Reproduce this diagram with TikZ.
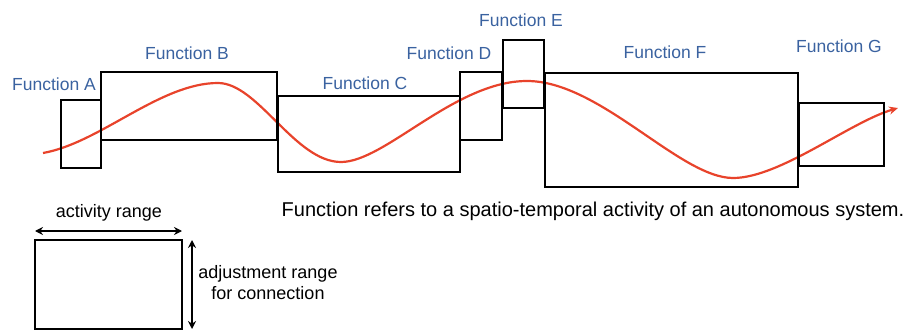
\documentclass[tikz,border=0pt]{standalone}
\usepackage{fontspec}
\setmainfont{Liberation Sans}
\usetikzlibrary{arrows.meta}

\definecolor{fnblue}{HTML}{3A62A0}
\definecolor{flowred}{HTML}{E8432B}

\tikzset{
  fbox/.style={draw, line width=2.6pt, inner sep=0pt},
  flabel/.style={text=fnblue, inner sep=0pt, font=\fontsize{17.5}{21}\selectfont},
  note/.style={inner sep=0pt, font=\fontsize{18}{21}\selectfont},
  flow/.style={flowred, line width=2.2pt, -{Stealth[length=9pt, width=8pt]}},
  spanarrow/.style={line width=2.2pt, {Stealth[length=8pt, width=8pt]}-{Stealth[length=8pt, width=8pt]}}
}

\begin{document}
\begin{tikzpicture}[x=1pt, y=-1pt]
            \useasboundingbox (0,0) rectangle (904,331);

            % Trajectory of the activity
            \coordinate (start) at (43,153);
            \coordinate (stop) at (898,108);
            \draw[flow] (start) .. controls (100,143) and (160,83) .. (218,83)
              .. controls (258,83) and (295,162) .. (341,162)
              .. controls (385,162) and (455,81) .. (527,81)
              .. controls (600,81) and (680,178) .. (733,178)
              .. controls (780,178) and (850,122) .. (stop);

            % Function boxes
            \node[fbox, minimum width=40pt, minimum height=68pt] (fA) at (81,134) {};
            \node[fbox, minimum width=176pt, minimum height=68pt] (fB) at (189,106) {};
            \node[fbox, minimum width=182pt, minimum height=76pt] (fC) at (369,134) {};
            \node[fbox, minimum width=42pt, minimum height=68pt] (fD) at (481,106) {};
            \node[fbox, minimum width=41pt, minimum height=68pt] (fE) at (523.5,74) {};
            \node[fbox, minimum width=253pt, minimum height=114pt] (fF) at (671.5,130) {};
            \node[fbox, minimum width=85pt, minimum height=63pt] (fG) at (841.5,134.5) {};

            % Function names
            \node[flabel] (lA) at (54,84) {Function A};
            \node[flabel] (lB) at (187,53) {Function B};
            \node[flabel] (lC) at (365,83) {Function C};
            \node[flabel] (lD) at (449,53) {Function D};
            \node[flabel] (lE) at (521,20) {Function E};
            \node[flabel] (lF) at (665,52) {Function F};
            \node[flabel] (lG) at (839,46) {Function G};

            \node[note, font=\fontsize{20}{24}\selectfont] (def) at (593,211) {Function refers to a spatio-temporal activity of an autonomous system.};

            % Legend
            \node[fbox, line width=2.4pt, minimum width=147pt, minimum height=89pt] (key) at (108.5,284.5) {};
            \coordinate (hl) at (35,231);
            \coordinate (hr) at (182,231);
            \coordinate (vt) at (192,240);
            \coordinate (vb) at (192,329);
            \draw[spanarrow] (hl) -- (hr);
            \draw[spanarrow] (vt) -- (vb);
            \node[note] (act) at (109,213) {activity range};
            \node[note, align=center] (adj) at (268,283) {adjustment range\\for connection};
        \end{tikzpicture}
\end{document}
